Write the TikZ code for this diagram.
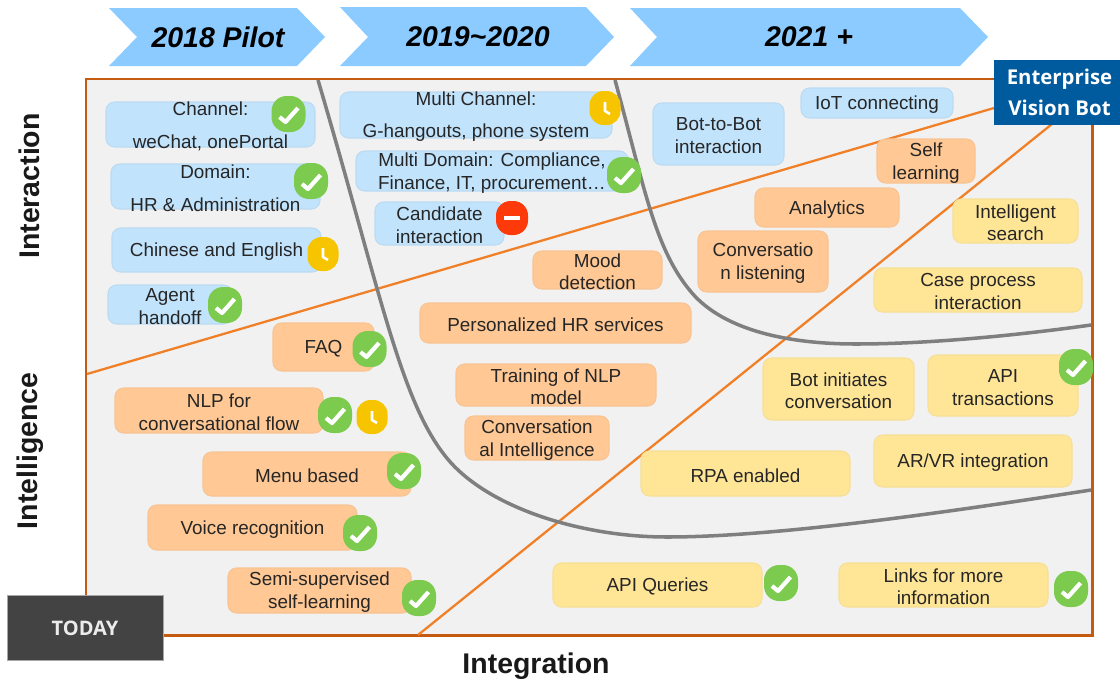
\documentclass[tikz,border=0pt]{standalone}
\usepackage{fontspec}
\setmainfont{Liberation Sans}
\newfontfamily\bannerfont{Open Sans}
\definecolor{framebrown}{HTML}{C55A11}
\definecolor{panelgrey}{HTML}{F1F1F1}
\definecolor{splitorange}{HTML}{F07F26}
\definecolor{curvegrey}{HTML}{7F7F7F}
\definecolor{stageblue}{HTML}{8CCBFF}
\definecolor{noteblue}{HTML}{C1E3FC}
\definecolor{noteorange}{HTML}{FFC894}
\definecolor{noteyellow}{HTML}{FFE596}
\definecolor{okgreen}{HTML}{7CCB4F}
\definecolor{waityellow}{HTML}{F6C500}
\definecolor{stopred}{HTML}{FF3A0A}
\definecolor{visionblue}{HTML}{005A9E}
\definecolor{todaygrey}{HTML}{434343}
\tikzset{
    notebox/.style={rectangle, rounded corners=0.17cm, line width=0.6pt, inner sep=0pt},
    bluenote/.style={notebox, fill=noteblue, draw=noteblue!92!gray},
    orangenote/.style={notebox, fill=noteorange, draw=noteorange!95!gray},
    yellownote/.style={notebox, fill=noteyellow, draw=noteyellow!94!gray},
    notetext/.style={align=center, inner sep=0pt, text=black!85, font=\fontsize{10.75}{13}\selectfont},
    axistext/.style={font=\fontsize{16.2}{19}\selectfont\bfseries, text=black!90},
    stagetext/.style={font=\fontsize{16.2}{19}\selectfont\bfseries\itshape},
    stage/.style={fill=stageblue, draw=none},
    splitline/.style={splitorange, line width=1.3pt},
    curveline/.style={curvegrey, line width=2pt},
    okmark/.pic={
        \fill[okgreen, rounded corners=0.3cm] (-17,-18) rectangle (17,18);
        \draw[white, line width=2.4pt, line join=round] (-9,3) -- (-3,8) -- (9.5,-6);
    },
    waitmark/.pic={
        \fill[waityellow, rounded corners=0.28cm] (-15.5,-17) rectangle (15.5,17);
        \draw[white, line width=1.5pt, line join=round] (0,-6) -- (0,3) -- (5,6);
    },
    stopmark/.pic={
        \fill[stopred, rounded corners=0.29cm] (-16,-17) rectangle (16,17);
        \draw[white, line width=2.4pt] (-8,0) -- (8,0);
    }
}
\newcommand{\ideabox}[6]{
    \node[#1, minimum width=#4*0.02cm, minimum height=#5*0.02cm] (#2) at (#3) {};
    \node[notetext, yshift=-0.035cm] (#2 text) at (#2) {#6};
}
\begin{document}
\begin{tikzpicture}[x=0.02cm, y=-0.02cm]
    \useasboundingbox (0,0) rectangle (1120,680);

    \fill[stage] (109,8) -- (297,8) -- (325,37) -- (297,66) -- (109,66) -- (137,37) -- cycle;
    \fill[stage] (340,7) -- (586,7) -- (614,37) -- (586,66) -- (340,66) -- (368,37) -- cycle;
    \fill[stage] (630,8) -- (960,8) -- (988,37) -- (960,66) -- (630,66) -- (657,37) -- cycle;
    \node[stagetext] (stage one) at (218,37) {2018 Pilot};
    \node[stagetext] (stage two) at (478,37) {2019\textasciitilde2020};
    \node[stagetext] (stage three) at (809,37) {2021 +};

    \draw[framebrown, fill=panelgrey, line width=1.7pt] (86,79) rectangle (1092,635);

    \coordinate (left split) at (87,374);
    \coordinate (vision west) at (994,108);
    \coordinate (floor split) at (418,635);
    \coordinate (vision south) at (1052,124);
    \draw[splitline] (left split) -- (vision west);
    \draw[splitline] (floor split) -- (vision south);

    \draw[curveline] (318,80) .. controls (380,290) and (400,400) .. (446,457) .. controls (486,507) and (580,537) .. (667,537) .. controls (770,537) and (930,515) .. (1091,490);
    \draw[curveline] (615,80) .. controls (645,190) and (655,250) .. (692,293) .. controls (725,331) and (790,344) .. (856,344) .. controls (930,344) and (1020,335) .. (1091,325);

    \ideabox{bluenote}{channel}{210.5,124.5}{209}{45}{Channel:\\[5.8pt]weChat, onePortal}
    \ideabox{bluenote}{domain}{215.5,186.5}{209}{45}{Domain:\\[5.3pt]HR \& Administration}
    \ideabox{bluenote}{chinese}{216.5,250}{209}{44}{Chinese and English}
    \ideabox{bluenote}{agent}{170,304.5}{124}{39}{Agent\\handoff}
    \ideabox{bluenote}{multi channel}{476,115}{272}{46}{Multi Channel:\\[5.3pt]G-hangouts, phone system}
    \ideabox{bluenote}{multi domain}{492,171}{272}{40}{Multi Domain: Compliance,\\Finance, IT, procurement…}
    \ideabox{bluenote}{candidate}{439.5,223.5}{129}{43}{Candidate\\interaction}
    \ideabox{bluenote}{bot to bot}{718.5,134}{131}{62}{Bot-to-Bot\\interaction}
    \ideabox{bluenote}{iot}{877,103}{152}{30}{IoT connecting}

    \ideabox{orangenote}{faq}{323.5,347}{101}{48}{FAQ}
    \ideabox{orangenote}{mood}{597.5,270}{129}{38}{Mood\\detection}
    \ideabox{orangenote}{personalized}{555.5,323}{271}{40}{Personalized HR services}
    \ideabox{orangenote}{training}{556,385}{200}{42}{Training of NLP\\model}
    \ideabox{orangenote}{conv intel}{537,438}{144}{44}{Conversation\\al Intelligence}
    \ideabox{orangenote}{nlp}{219,410.5}{208}{45}{NLP for\\conversational flow}
    \ideabox{orangenote}{menu}{307,474}{208}{44}{Menu based}
    \ideabox{orangenote}{voice}{252.5,527.5}{209}{45}{Voice recognition}
    \ideabox{orangenote}{semi}{319.5,590.5}{183}{45}{Semi-supervised\\self-learning}
    \ideabox{orangenote}{self}{926,161}{98}{44}{Self\\learning}
    \ideabox{orangenote}{analytics}{827,207.5}{144}{39}{Analytics}
    \ideabox{orangenote}{conv listen}{763,261.5}{130}{61}{Conversatio\\n listening}

    \ideabox{yellownote}{search}{1015.5,221}{125}{44}{Intelligent\\search}
    \ideabox{yellownote}{case}{978,290}{208}{44}{Case process\\interaction}
    \ideabox{yellownote}{bot init}{838.5,389}{151}{62}{Bot initiates\\conversation}
    \ideabox{yellownote}{api trans}{1003,385.5}{150}{61}{API\\transactions}
    \ideabox{yellownote}{arvr}{973,461}{198}{52}{AR/VR integration}
    \ideabox{yellownote}{rpa}{745.5,473.5}{209}{45}{RPA enabled}
    \ideabox{yellownote}{api queries}{657.5,585}{209}{44}{API Queries}
    \ideabox{yellownote}{links}{943.5,585}{209}{44}{Links for more\\information}

    \pic at (288.5,114) {okmark};
    \pic at (311,181) {okmark};
    \pic at (323,254) {waitmark};
    \pic at (225,305) {okmark};
    \pic at (605,108) {waitmark};
    \pic at (624,175) {okmark};
    \pic at (512,218) {stopmark};
    \pic at (369.5,349) {okmark};
    \pic at (335,415) {okmark};
    \pic at (372,417) {waitmark};
    \pic at (404,471) {okmark};
    \pic at (360,533) {okmark};
    \pic at (419,598) {okmark};
    \pic at (1076,367) {okmark};
    \pic at (781,583) {okmark};
    \pic at (1071,589) {okmark};

    \node[rectangle, fill=visionblue, text=white, align=center, inner sep=0pt, minimum width=126*0.02cm, minimum height=65*0.02cm, font=\fontsize{11.6}{17.6}\selectfont\bannerfont\bfseries] (vision bot) at (1057,92) {\hspace*{0.1cm}Enterprise\\\hspace*{0.1cm}Vision Bot};
    \node[rectangle, fill=todaygrey, draw=gray!70, line width=0.4pt, text=white!92!black, inner sep=0pt, minimum width=156*0.02cm, minimum height=65*0.02cm, font=\fontsize{11.4}{14}\selectfont\bannerfont\bfseries] (today) at (85,628) {TODAY};

    \node[axistext, rotate=90] (interaction) at (29,186) {Interaction};
    \node[axistext, rotate=90] (intelligence) at (30,451) {Intelligence};
    \node[axistext] (integration) at (536,666) {Integration};
\end{tikzpicture}
\end{document}
